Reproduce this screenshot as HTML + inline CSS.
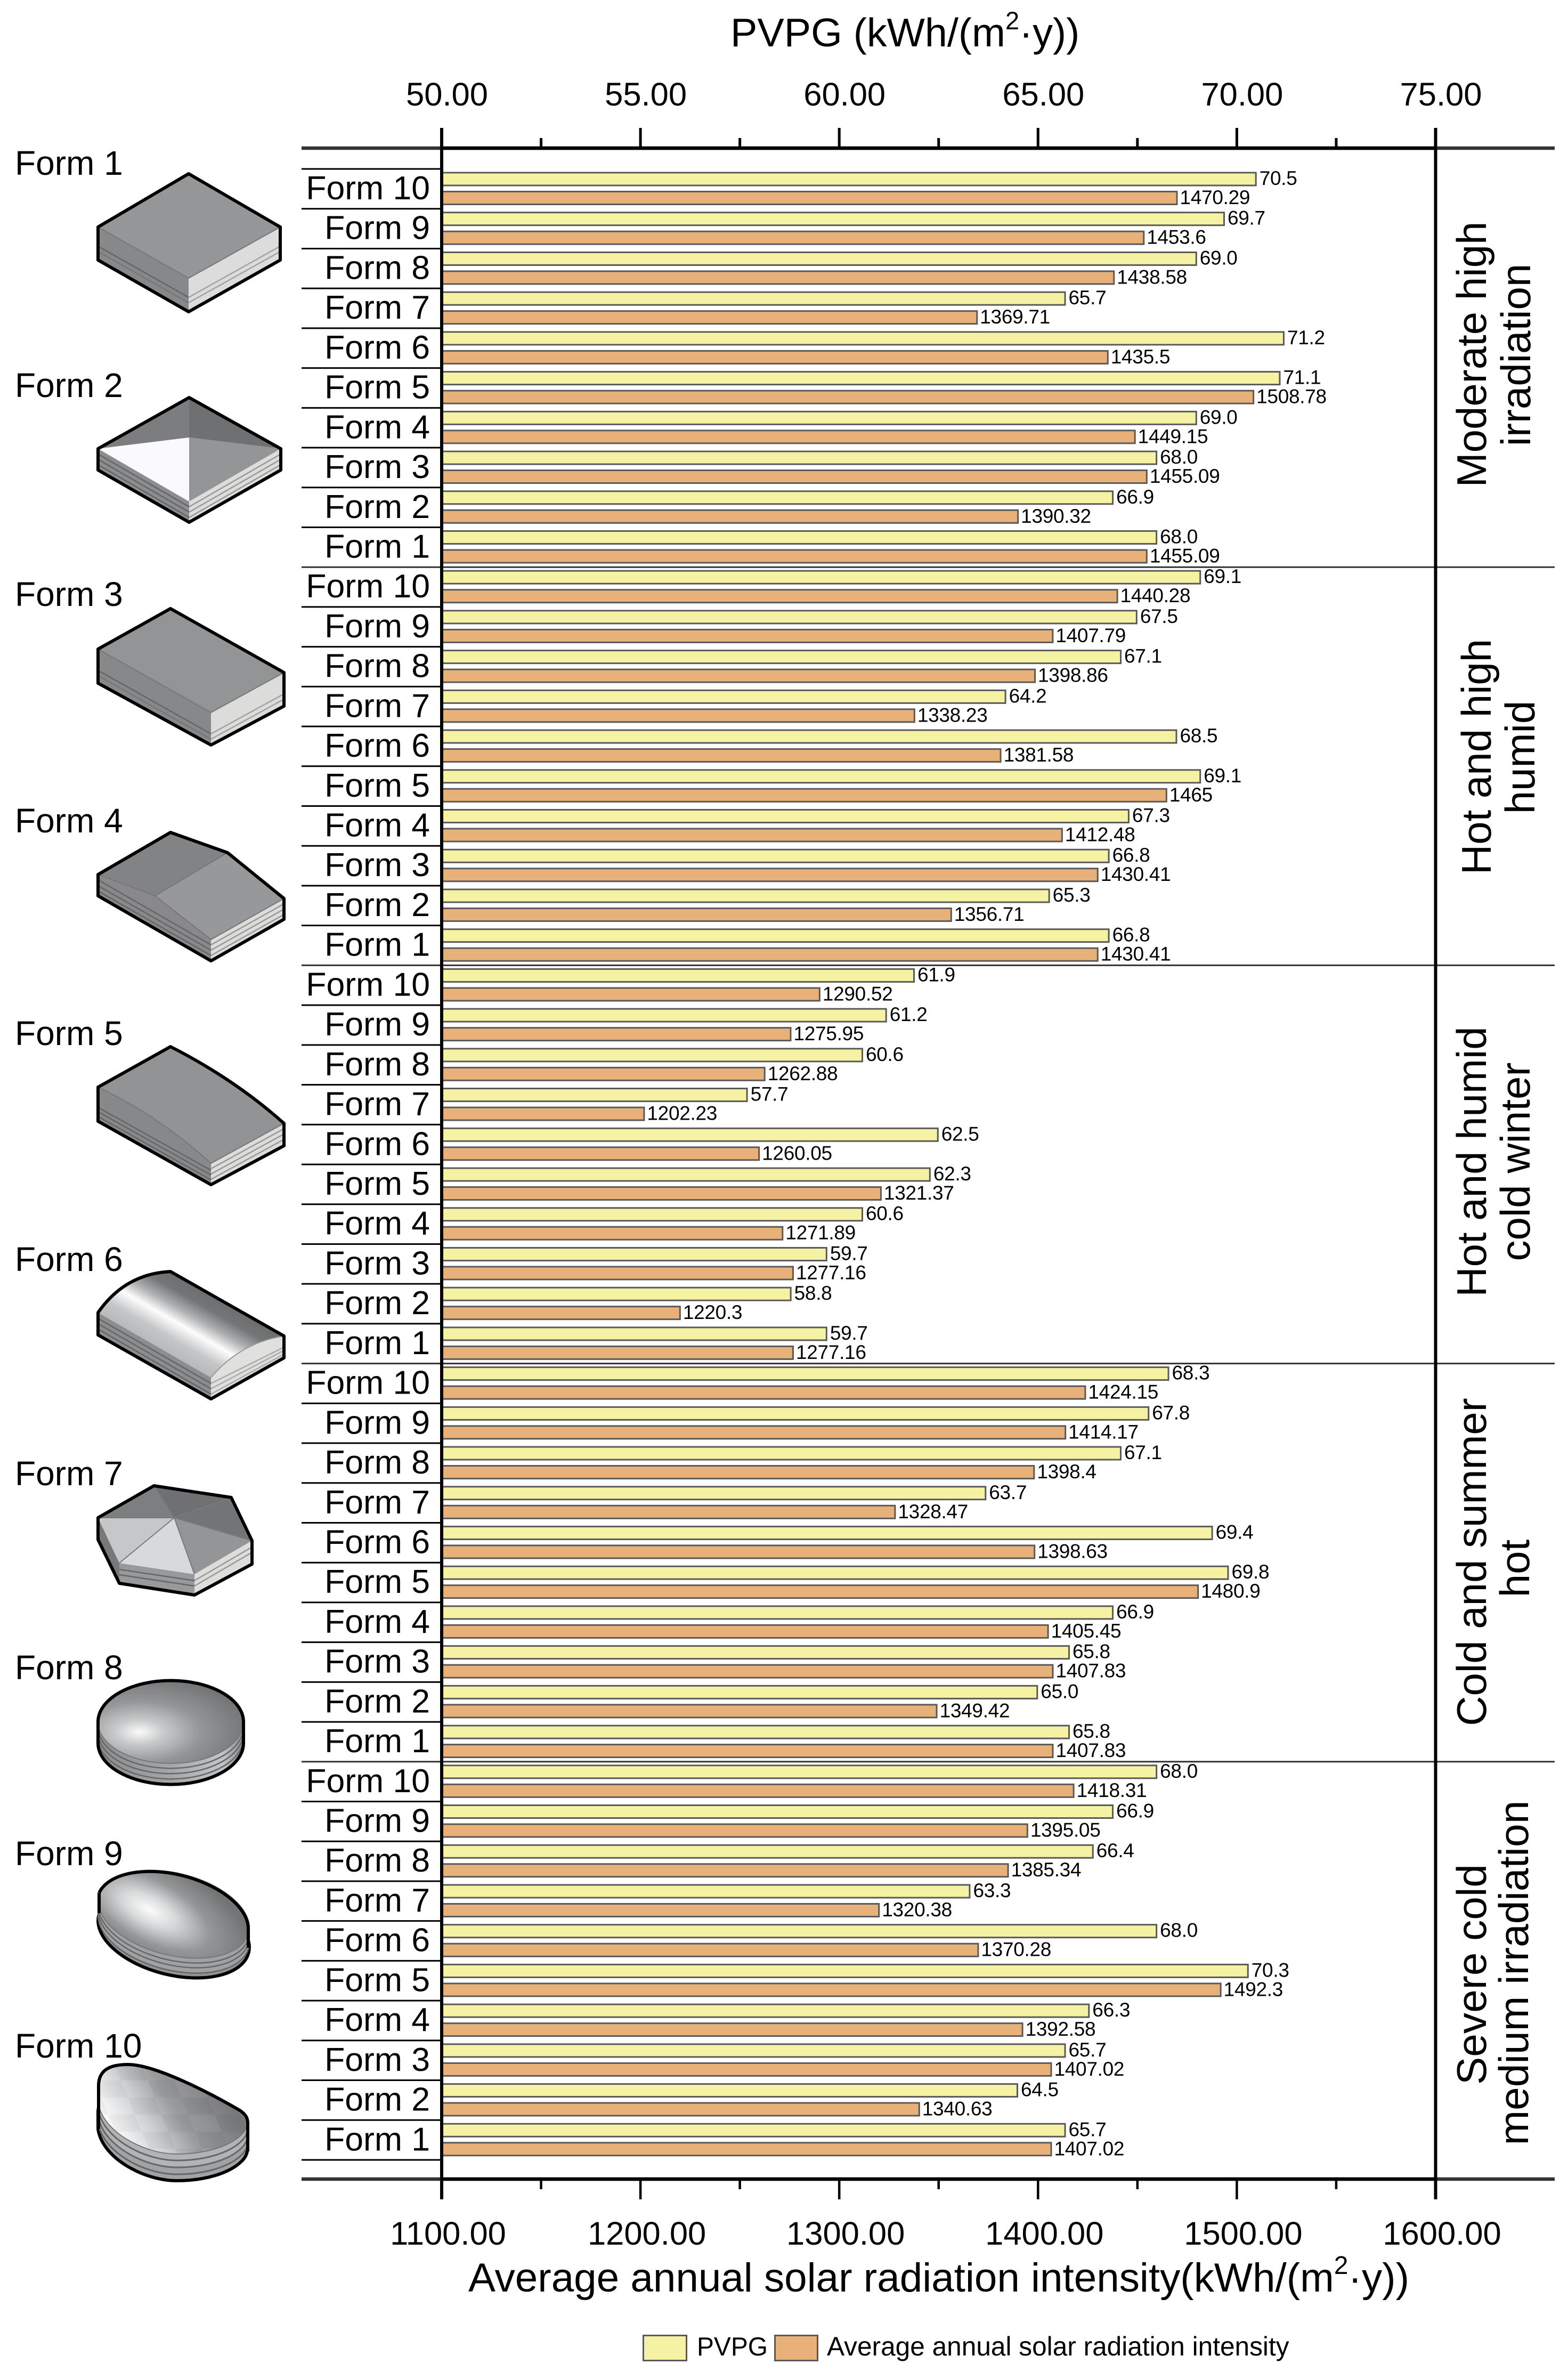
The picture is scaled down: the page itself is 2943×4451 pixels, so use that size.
<!DOCTYPE html>
<html lang="en">
<head>
<meta charset="utf-8">
<title>PVPG and average annual solar radiation intensity by form and climate zone</title>
<style>
html,body{margin:0;padding:0;background:#fff;}
svg{display:block;}
text{font-family:"Liberation Sans",sans-serif;fill:#000;}
</style>
</head>
<body>
<svg id="chart" xmlns="http://www.w3.org/2000/svg" width="2943" height="4451" viewBox="0 0 2943 4451">
<defs>
<linearGradient id="g6" gradientUnits="userSpaceOnUse" x1="396" y1="2585" x2="464" y2="2467">
<stop offset="0" stop-color="#b8b9bb"/><stop offset=".2" stop-color="#c5c6c8"/><stop offset=".42" stop-color="#fdfdfd"/><stop offset=".6" stop-color="#b0b1b3"/><stop offset=".8" stop-color="#747577"/><stop offset="1" stop-color="#6c6d6f"/>
</linearGradient>
<radialGradient id="g8" gradientUnits="userSpaceOnUse" cx="262" cy="3250" r="210" gradientTransform="translate(262 3250) scale(1 .5) translate(-262 -3250)">
<stop offset="0" stop-color="#fbfbfb"/><stop offset=".22" stop-color="#c8c9ca"/><stop offset=".55" stop-color="#949597"/><stop offset="1" stop-color="#727375"/>
</radialGradient>
<radialGradient id="g9" gradientUnits="userSpaceOnUse" cx="280" cy="3595" r="215" gradientTransform="translate(280 3595) rotate(14) scale(1 .45) translate(-280 -3595)">
<stop offset="0" stop-color="#fbfbfb"/><stop offset=".25" stop-color="#d8d9da"/><stop offset=".58" stop-color="#959698"/><stop offset="1" stop-color="#727375"/>
</radialGradient>
<linearGradient id="gs" x1="0" x2="1" y1="0" y2="0">
<stop offset="0" stop-color="#8b8c8e"/><stop offset=".5" stop-color="#a5a6a7"/><stop offset=".85" stop-color="#c4c5c6"/><stop offset="1" stop-color="#8b8c8e"/>
</linearGradient>
<linearGradient id="g10" gradientUnits="userSpaceOnUse" x1="215" y1="4015" x2="400" y2="3900">
<stop offset="0" stop-color="#ffffff"/><stop offset=".3" stop-color="#d2d3d5"/><stop offset=".58" stop-color="#9a9b9d"/><stop offset="1" stop-color="#78797b"/>
</linearGradient>
<pattern id="p10" patternUnits="userSpaceOnUse" width="100" height="64" patternTransform="skewX(22)">
<rect width="50" height="32" fill="#000" opacity=".035"/><rect x="50" y="32" width="50" height="32" fill="#000" opacity=".035"/><rect x="50" width="50" height="32" fill="#fff" opacity=".03"/>
</pattern>
</defs>
<rect width="2943" height="4451" fill="#fff"/>

<text x="1371" y="87" font-size="75.500">PVPG (kWh/(m<tspan y="55" font-size="47">2</tspan><tspan y="87">·y))</tspan></text>
<text x="879" y="4300" font-size="76.4">Average annual solar radiation intensity(kWh/(m<tspan y="4267" font-size="48">2</tspan><tspan y="4300">·y))</tspan></text>

<g>
<text x="28" y="328" font-size="64">Form 1</text>
<polygon points="184,426 354,522 354,585 184,488" fill="#87888a"/>
<polygon points="354,522 526,426 526,488 354,585" fill="#dcdcdc"/>
<g fill="none" stroke-width="2.5"><polyline points="184,462 354,558" stroke="#666"/><polyline points="184,472 354,568" stroke="#777"/><polyline points="354,558 526,462" stroke="#a3a3a3"/><polyline points="354,568 526,472" stroke="#a3a3a3"/></g>
<polygon points="354,326 526,426 354,522 184,426" fill="#959698" stroke="#777" stroke-width="2"/>
<polygon points="354,326 526,426 526,488 354,585 184,488 184,426" fill="none" stroke="#000" stroke-width="6" stroke-linejoin="round"/>
</g>

<g>
<text x="28" y="745" font-size="64">Form 2</text>
<polygon points="184,842 355,941 355,980 184,882" fill="#8c8d8f"/>
<polygon points="355,941 527,842 527,882 355,980" fill="#dddddb"/>
<g fill="none" stroke-width="2.5"><polyline points="184,852 355,951" stroke="#666"/><polyline points="184,862 355,961" stroke="#666"/><polyline points="184,872 355,971" stroke="#666"/><polyline points="355,951 527,852" stroke="#999"/><polyline points="355,961 527,862" stroke="#999"/><polyline points="355,971 527,872" stroke="#999"/></g>
<polygon points="355,746 355,821 184,842" fill="#7c7d7f"/>
<polygon points="355,746 527,842 355,821" fill="#6f7072"/>
<polygon points="184,842 355,821 355,941" fill="#fafafc"/>
<polygon points="355,821 527,842 355,941" fill="#949597"/>
<polygon points="355,746 527,842 527,882 355,980 184,882 184,842" fill="none" stroke="#000" stroke-width="6" stroke-linejoin="round"/>
</g>

<g>
<text x="28" y="1137" font-size="64">Form 3</text>
<polygon points="184,1218 396,1337 396,1398 184,1282" fill="#87888a"/>
<polygon points="396,1337 533,1262 533,1325 396,1398" fill="#dcdcdb"/>
<g fill="none" stroke-width="2.5"><polyline points="184,1258 396,1377" stroke="#666"/><polyline points="184,1268 396,1387" stroke="#777"/><polyline points="396,1377 533,1302" stroke="#a3a3a3"/><polyline points="396,1387 533,1312" stroke="#a3a3a3"/></g>
<polygon points="320,1142 533,1262 396,1337 184,1218" fill="#939496" stroke="#777" stroke-width="2"/>
<polygon points="320,1142 533,1262 533,1325 396,1398 184,1282 184,1218" fill="none" stroke="#000" stroke-width="6" stroke-linejoin="round"/>
</g>

<g>
<text x="28" y="1562" font-size="64">Form 4</text>
<polygon points="184,1641 291,1681 396,1763 396,1803 184,1681" fill="#89898b"/>
<polygon points="396,1763 533,1686 533,1725 396,1803" fill="#dddddb"/>
<g fill="none" stroke-width="2.5"><polyline points="184,1651 396,1773" stroke="#666"/><polyline points="184,1662 396,1783" stroke="#666"/><polyline points="184,1672 396,1793" stroke="#666"/><polyline points="396,1773 533,1696" stroke="#999"/><polyline points="396,1783 533,1706" stroke="#999"/><polyline points="396,1793 533,1716" stroke="#999"/></g>
<polygon points="320,1562 427,1600 291,1681 184,1641" fill="#828385" stroke="#777" stroke-width="2"/>
<polygon points="427,1600 533,1686 396,1763 291,1681" fill="#979899" stroke="#777" stroke-width="2"/>
<polygon points="320,1562 427,1600 533,1686 533,1725 396,1803 184,1681 184,1641" fill="none" stroke="#000" stroke-width="6" stroke-linejoin="round"/>
</g>

<g>
<text x="28" y="1961" font-size="64">Form 5</text>
<path d="M184,2040 Q300,2095 396,2183 L396,2223 L184,2104 Z" fill="#87888a"/>
<polygon points="396,2183 533,2108 533,2150 396,2223" fill="#dddddb"/>
<g fill="none" stroke-width="2.5"><polyline points="184,2078 396,2196" stroke="#666"/><polyline points="184,2086 396,2205" stroke="#666"/><polyline points="184,2095 396,2214" stroke="#666"/><polyline points="396,2193 533,2118" stroke="#999"/><polyline points="396,2203 533,2128" stroke="#999"/><polyline points="396,2213 533,2138" stroke="#999"/></g>
<path d="M320,1964 Q440,2025 533,2108 L396,2183 Q300,2095 184,2040 Z" fill="#929395" stroke="#777" stroke-width="2"/>
<path d="M320,1964 Q440,2025 533,2108 L533,2150 L396,2223 L184,2104 L184,2040 Z" fill="none" stroke="#000" stroke-width="6" stroke-linejoin="round"/>
</g>

<g>
<text x="28" y="2385" font-size="64">Form 6</text>
<polygon points="184,2463 396,2585 396,2625 184,2505" fill="#8c8d8f"/>
<path d="M396,2585 Q450,2520 533,2507 L533,2548 L396,2625 Z" fill="#e0e0df"/>
<g fill="none" stroke-width="2.5"><polyline points="184,2474 396,2596" stroke="#666"/><polyline points="184,2484 396,2606" stroke="#666"/><polyline points="184,2494 396,2616" stroke="#666"/><polyline points="396,2596 533,2528" stroke="#aaa"/><polyline points="396,2606 533,2534" stroke="#aaa"/><polyline points="396,2616 533,2541" stroke="#aaa"/></g>
<path d="M184,2463 Q235,2390 320,2386 L533,2507 Q450,2520 396,2585 Z" fill="url(#g6)"/>
<path d="M396,2585 Q450,2520 533,2507" fill="none" stroke="#999" stroke-width="2"/>
<path d="M184,2463 Q235,2390 320,2386 L533,2507 L533,2548 L396,2625 L184,2505 Z" fill="none" stroke="#000" stroke-width="6" stroke-linejoin="round"/>
</g>

<g>
<text x="28" y="2787" font-size="64">Form 7</text>
<polygon points="184,2848 224,2933 224,2971 184,2889" fill="#77787a"/>
<polygon points="224,2933 365,2954 365,2993 224,2971" fill="#98999b"/>
<polygon points="365,2954 473,2891 473,2935 365,2993" fill="#dddddb"/>
<g fill="none" stroke-width="2.5"><polyline points="224,2945 365,2966" stroke="#666"/><polyline points="224,2955 365,2976" stroke="#666"/><polyline points="365,2966 473,2903" stroke="#999"/><polyline points="365,2976 473,2913" stroke="#999"/></g>
<polygon points="184,2848 289,2788 327,2848" fill="#7d7e80"/>
<polygon points="289,2788 434,2810 327,2848" fill="#6f7072"/>
<polygon points="434,2810 473,2891 327,2848" fill="#737476"/>
<polygon points="473,2891 365,2954 327,2848" fill="#949597"/>
<polygon points="365,2954 224,2933 327,2848" fill="#d8d9dc"/>
<polygon points="224,2933 184,2848 327,2848" fill="#c6c7c9"/>
<g stroke="#7a7a7c" stroke-width="2"><line x1="327" y1="2848" x2="184" y2="2848"/><line x1="327" y1="2848" x2="289" y2="2788"/><line x1="327" y1="2848" x2="434" y2="2810"/><line x1="327" y1="2848" x2="473" y2="2891"/><line x1="327" y1="2848" x2="365" y2="2954"/><line x1="327" y1="2848" x2="224" y2="2933"/></g>
<polygon points="184,2848 289,2788 434,2810 473,2891 473,2935 365,2993 224,2971 184,2889" fill="none" stroke="#000" stroke-width="6" stroke-linejoin="round"/>
</g>

<g>
<text x="28" y="3151" font-size="64">Form 8</text>
<path d="M184,3231 L184,3271 A136,77 0 0 0 457,3271 L457,3231 Z" fill="url(#gs)"/>
<g fill="none" stroke="#666" stroke-width="2.5"><path d="M184,3241 A136,77 0 0 0 457,3241"/><path d="M184,3251 A136,77 0 0 0 457,3251"/><path d="M184,3261 A136,77 0 0 0 457,3261"/></g>
<ellipse cx="320.500" cy="3231.500" rx="136.500" ry="77.500" fill="url(#g8)" stroke="#777" stroke-width="2"/>
<path d="M184,3231 A136.500,77.500 0 0 1 457,3231 L457,3271 A136.500,77.500 0 0 1 184,3271 Z" fill="none" stroke="#000" stroke-width="6"/>
</g>

<g>
<text x="28" y="3500" font-size="64">Form 9</text>
<ellipse cx="326" cy="3629" rx="145" ry="77" transform="rotate(14 326 3629)" fill="#919294" stroke="#000" stroke-width="6"/>
<polygon points="184,3554 468,3617 468,3654 184,3591" fill="url(#gs)"/>
<ellipse cx="326" cy="3620" rx="145" ry="77" transform="rotate(14 326 3620)" fill="#a0a1a3" stroke="#666" stroke-width="2.500"/>
<ellipse cx="326" cy="3610" rx="145" ry="77" transform="rotate(14 326 3610)" fill="#a0a1a3" stroke="#666" stroke-width="2.500"/>
<ellipse cx="326" cy="3601" rx="145" ry="77" transform="rotate(14 326 3601)" fill="#a0a1a3" stroke="#666" stroke-width="2.500"/>
<ellipse cx="326" cy="3592" rx="145" ry="77" transform="rotate(14 326 3592)" fill="url(#g9)" stroke="#777" stroke-width="2"/>
<path d="M186,3552 A145,77 14 0 1 466,3622 L466,3655" fill="none" stroke="#000" stroke-width="6"/>
<line x1="186" y1="3552" x2="186" y2="3590" stroke="#000" stroke-width="6"/>
</g>

<g>
<text x="28" y="3861" font-size="64">Form 10</text>
<g stroke-width="3" fill="#a1a2a4">
<path transform="translate(0 50)" d="M184,3912 C186,3885 205,3874 240,3874 C290,3874 390,3925 450,3960 C468,3972 468,3990 455,4004 C430,4030 380,4042 332,4042 C270,4042 192,4000 184,3945 Z" stroke="#000" stroke-width="6"/>
<path transform="translate(0 38)" d="M184,3912 C186,3885 205,3874 240,3874 C290,3874 390,3925 450,3960 C468,3972 468,3990 455,4004 C430,4030 380,4042 332,4042 C270,4042 192,4000 184,3945 Z" stroke="#666"/>
<path transform="translate(0 25)" d="M184,3912 C186,3885 205,3874 240,3874 C290,3874 390,3925 450,3960 C468,3972 468,3990 455,4004 C430,4030 380,4042 332,4042 C270,4042 192,4000 184,3945 Z" stroke="#666" fill="#b2b3b5"/>
<path transform="translate(0 12)" d="M184,3912 C186,3885 205,3874 240,3874 C290,3874 390,3925 450,3960 C468,3972 468,3990 455,4004 C430,4030 380,4042 332,4042 C270,4042 192,4000 184,3945 Z" stroke="#666" fill="#b2b3b5"/>
</g>
<path d="M184,3912 C186,3885 205,3874 240,3874 C290,3874 390,3925 450,3960 C468,3972 468,3990 455,4004 C430,4030 380,4042 332,4042 C270,4042 192,4000 184,3945 Z" fill="url(#g10)" stroke="#777" stroke-width="2"/>
<path d="M184,3912 C186,3885 205,3874 240,3874 C290,3874 390,3925 450,3960 C468,3972 468,3990 455,4004 C430,4030 380,4042 332,4042 C270,4042 192,4000 184,3945 Z" fill="url(#p10)"/>
<path d="M185,3995 L185,3912 C186,3885 205,3874 240,3874 C290,3874 390,3925 450,3960 C462,3968 465,3975 465,3985 L465,4037" fill="none" stroke="#000" stroke-width="6"/>
</g>

<g id="bars"></g>
<g id="values"></g>
<g id="cats"></g>
<g id="axes"></g>

<g font-size="78" text-anchor="middle">
<text transform="translate(2789 665) rotate(-90)">Moderate high</text>
<text transform="translate(2872 666) rotate(-90)">irradiation</text>
<text transform="translate(2798 1420) rotate(-90)">Hot and high</text>
<text transform="translate(2880 1421) rotate(-90)">humid</text>
<text transform="translate(2789 2180) rotate(-90)">Hot and humid</text>
<text transform="translate(2871 2180) rotate(-90)">cold winter</text>
<text transform="translate(2789 2931) rotate(-90)">Cold and summer</text>
<text transform="translate(2870 2943) rotate(-90)">hot</text>
<text transform="translate(2789 3705) rotate(-90)" textLength="414" lengthAdjust="spacingAndGlyphs">Severe cold</text>
<text transform="translate(2868 3702) rotate(-90)" textLength="647" lengthAdjust="spacingAndGlyphs">medium irradiation</text>
</g>

<g>
<rect x="1207.500" y="4382.500" width="81" height="47" fill="#f5f2a3" stroke="#595959" stroke-width="3"/>
<text x="1308" y="4420" font-size="49" textLength="133" lengthAdjust="spacingAndGlyphs">PVPG</text>
<rect x="1454.500" y="4382.500" width="80" height="47" fill="#e9b17a" stroke="#595959" stroke-width="3"/>
<text x="1552" y="4420" font-size="49.600">Average annual solar radiation intensity</text>
</g>
</svg>
<script>
const categories = ["Form 10","Form 9","Form 8","Form 7","Form 6","Form 5","Form 4","Form 3","Form 2","Form 1"];
const pvpgTicks = [50,55,60,65,70,75];
const solarTicks = [1100,1200,1300,1400,1500,1600];
const pvpgModerateHigh = [70.5,69.7,69.0,65.7,71.2,71.1,69.0,68.0,66.9,68.0];
const pvpgHotHumid = [69.1,67.5,67.1,64.2,68.5,69.1,67.3,66.8,65.3,66.8];
const pvpgHotWinter = [61.9,61.2,60.6,57.7,62.5,62.3,60.6,59.7,58.8,59.7];
const pvpgColdSummer = [68.3,67.8,67.1,63.7,69.4,69.8,66.9,65.8,65.0,65.8];
const pvpgSevereCold = [68.0,66.9,66.4,63.3,68.0,70.3,66.3,65.7,64.5,65.7];
const solarModerateHigh = [1470.29,1453.6,1438.58,1369.71,1435.5,1508.78,1449.15,1455.09,1390.32,1455.09];
const solarHotHumid = [1440.28,1407.79,1398.86,1338.23,1381.58,1465,1412.48,1430.41,1356.71,1430.41];
const solarHotWinter = [1290.52,1275.95,1262.88,1202.23,1260.05,1321.37,1271.89,1277.16,1220.3,1277.16];
const solarColdSummer = [1424.15,1414.17,1398.4,1328.47,1398.63,1480.9,1405.45,1407.83,1349.42,1407.83];
const solarSevereCold = [1418.31,1395.05,1385.34,1320.38,1370.28,1492.3,1392.58,1407.02,1340.63,1407.02];
const pvpgZones = [pvpgModerateHigh,pvpgHotHumid,pvpgHotWinter,pvpgColdSummer,pvpgSevereCold];
const solarZones = [solarModerateHigh,solarHotHumid,solarHotWinter,solarColdSummer,solarSevereCold];

const NS = "http://www.w3.org/2000/svg";
const plotLeft = 829, plotRight = 2694.5, catStart = 317, catHeight = 74.72;
const axisTopY = 278, axisBottomY = 4089, farLeft = 566, farRight = 2918;
function xPvpg(v){ return plotLeft + (v - 50) / 25 * (plotRight - plotLeft); }
function xSolar(v){ return plotLeft + (v - 1100) / 500 * (plotRight - plotLeft); }
function catTop(i){ return catStart + catHeight * i; }
function make(parent, tag, attrs, txt){
  const el = document.createElementNS(NS, tag);
  for (const k in attrs) el.setAttribute(k, attrs[k]);
  if (txt !== undefined) el.textContent = txt;
  parent.appendChild(el);
  return el;
}
const gBars = document.getElementById("bars");
const gVals = document.getElementById("values");
const gCats = document.getElementById("cats");
const gAxes = document.getElementById("axes");

pvpgZones.forEach(function(zone, z){
  zone.forEach(function(v, c){
    const y0 = catTop(z * categories.length + c);
    const x1 = xPvpg(v);
    const bar1 = make(gBars, "rect", {x: plotLeft, y: y0 + 7, width: x1 - plotLeft - 1.5, height: 24, fill: "#f5f2a3", stroke: "#595959", "stroke-width": 3});
    
    
    const lab1 = make(gVals, "text", {x: x1 + 5, y: y0 + 30, "font-size": 37, "letter-spacing": "-0.3"}, v.toFixed(1));
    
    
    const s = solarZones[z][c];
    const x2 = xSolar(s);
    const bar2 = make(gBars, "rect", {x: plotLeft, y: y0 + 42.5, width: x2 - plotLeft - 1.5, height: 24, fill: "#e9b17a", stroke: "#595959", "stroke-width": 3});
    
    
    const lab2 = make(gVals, "text", {x: x2 + 4, y: y0 + 66, "font-size": 37, "letter-spacing": "-0.3"}, String(s));
    
    
    const cat = make(gCats, "text", {x: 807, y: y0 + 57, "font-size": 62.5, "text-anchor": "end"}, categories[c]);
    
    
  });
});

for (let i = 0; i <= pvpgZones.length * categories.length; i++) {
  const y = catTop(i);
  const boundary = i % categories.length === 0 && i > 0 && i < pvpgZones.length * categories.length;
  const line = make(gCats, "line", {x1: farLeft, x2: boundary ? farRight : plotLeft, y1: y, y2: y, stroke: boundary ? "#333" : "#000", "stroke-width": 3});
  
  
}

const topEdge = make(gAxes, "line", {x1: farLeft, x2: farRight, y1: axisTopY, y2: axisTopY, stroke: "#333", "stroke-width": 6.5});


const bottomEdge = make(gAxes, "line", {x1: farLeft, x2: farRight, y1: axisBottomY, y2: axisBottomY, stroke: "#333", "stroke-width": 6.5});


const topAxis = make(gAxes, "line", {x1: plotLeft, x2: plotRight, y1: axisTopY, y2: axisTopY, stroke: "#000", "stroke-width": 6.5});


const bottomAxis = make(gAxes, "line", {x1: plotLeft, x2: plotRight, y1: axisBottomY, y2: axisBottomY, stroke: "#000", "stroke-width": 6.5});


const leftAxis = make(gAxes, "line", {x1: plotLeft, x2: plotLeft, y1: 240, y2: 4127, stroke: "#000", "stroke-width": 6});


const rightAxis = make(gAxes, "line", {x1: plotRight, x2: plotRight, y1: 240, y2: 4127, stroke: "#000", "stroke-width": 6});



pvpgTicks.forEach(function(t, i){
  const x = xPvpg(t);
  const tick = make(gAxes, "line", {x1: x, x2: x, y1: 240, y2: axisTopY, stroke: "#000", "stroke-width": 5});
  
  
  const lab = make(gAxes, "text", {x: x + 10, y: 198, "font-size": 61.5, "text-anchor": "middle"}, t.toFixed(2));
  
  
  if (i < pvpgTicks.length - 1) {
    const mx = xPvpg((t + pvpgTicks[i + 1]) / 2);
    const minor = make(gAxes, "line", {x1: mx, x2: mx, y1: 259, y2: axisTopY, stroke: "#000", "stroke-width": 5});
    
    
  }
});
solarTicks.forEach(function(t, i){
  const x = xSolar(t);
  const tick = make(gAxes, "line", {x1: x, x2: x, y1: axisBottomY, y2: 4127, stroke: "#000", "stroke-width": 4.5});
  
  
  const lab = make(gAxes, "text", {x: x + 12, y: 4212, "font-size": 61.5, "text-anchor": "middle"}, t.toFixed(2));
  
  
  if (i < solarTicks.length - 1) {
    const mx = xSolar((t + solarTicks[i + 1]) / 2);
    const minor = make(gAxes, "line", {x1: mx, x2: mx, y1: axisBottomY, y2: 4108, stroke: "#000", "stroke-width": 4.5});
    
    
  }
});
</script>
</body>
</html>
